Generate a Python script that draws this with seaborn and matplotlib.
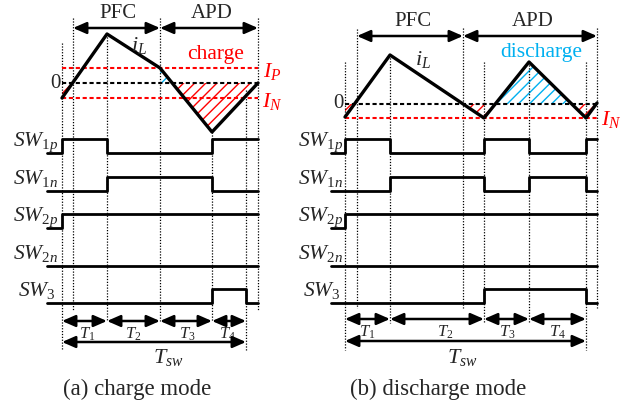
import numpy as np
import matplotlib
matplotlib.use('Agg')
import matplotlib.pyplot as plt
import seaborn as sns

sns.set_style('white')
plt.rcParams['font.family'] = ['Liberation Serif', 'DejaVu Serif']
plt.rcParams['mathtext.fontset'] = 'custom'
plt.rcParams['mathtext.rm'] = 'Liberation Serif'
plt.rcParams['mathtext.it'] = 'Liberation Serif:italic'
plt.rcParams['hatch.linewidth'] = 1.0

RED = '#ff0000'
BLUE = '#00b0f0'

# switch names and row levels (low level of each trace, sheet units)
sw_names = ['SW_{1p}', 'SW_{1n}', 'SW_{2p}', 'SW_{2n}', 'SW_3']
row_low = [153, 191, 228, 266, 303]
pulse_h = 14

# ---- (a) charge mode ----
a_il_t = [62, 107, 160, 212, 258]
a_il = [98, 34, 68, 132, 83]
a_levels = {'zero': 83, 'ip': 68, 'in': 98}
a_edges = [47, 62, 107, 212, 246, 258]
a_states = [
    [0, 1, 0, 1, 1],
    [0, 0, 1, 0, 0],
    [0, 1, 1, 1, 1],
    [0, 0, 0, 0, 0],
    [0, 0, 0, 1, 0],
]
a_vlines = [62, 73, 107, 160, 212, 246, 258]
a_vtop = [43, 18, 34, 18, 132, 90, 18]
a_vbot = [350, 310, 321, 321, 321, 350, 310]
a_periods = [62, 107, 160, 212, 246]
a_modes = [73, 160, 258]

# ---- (b) discharge mode ----
b_il_t = [345, 390, 484, 529, 586, 597]
b_il = [117, 55, 118, 62, 118, 103]
b_levels = {'zero': 104, 'in': 118}
b_edges = [331, 345, 390, 484, 529, 586, 597]
b_states = [
    [0, 1, 0, 1, 0, 1],
    [0, 0, 1, 0, 1, 0],
    [0, 1, 1, 1, 1, 1],
    [0, 0, 0, 0, 0, 0],
    [0, 0, 0, 1, 1, 0],
]
b_vlines = [345, 357, 390, 463, 484, 529, 586, 597]
b_vtop = [62, 29, 55, 28, 62, 62, 62, 28]
b_vbot = [350, 308, 323, 308, 323, 323, 350, 308]
b_periods = [345, 390, 484, 529, 586]
b_modes = [357, 463, 597]


def darrow(ax, x0, x1, y, lw=1.8):
    ax.annotate('', xy=(x1, y), xytext=(x0, y),
                arrowprops=dict(arrowstyle='<|-|>,head_length=0.8,head_width=0.35',
                                color='k', lw=lw, shrinkA=0, shrinkB=0))


def draw_panel(ax, il_t, il, lv, edges, states, vl, vtop, vbot, periods, modes,
               mode_y, lab_x, pos):
    # dotted event lines
    for x, t0, t1 in zip(vl, vtop, vbot):
        ax.plot([x, x], [t0, t1], color='k', lw=0.9, ls=(0, (1, 1.3)))
    x0, x1 = il_t[0], il_t[-1]
    # reference levels
    ax.plot([x0, x1], [lv['zero']] * 2, color='k', lw=1.5, ls=(0, (2, 1.3)))
    if 'ip' in lv:
        ax.plot([x0, x1], [lv['ip']] * 2, color=RED, lw=1.5, ls=(0, (2, 1.3)))
    ax.plot([x0, x1], [lv['in']] * 2, color=RED, lw=1.5, ls=(0, (2, 1.3)))
    # hatched areas between iL and zero
    tt = np.linspace(x0, x1, 600)
    yy = np.interp(tt, il_t, il)
    z = lv['zero']
    ax.fill_between(tt, z, yy, where=yy >= z, interpolate=True,
                    facecolor='none', edgecolor=RED, hatch='///', lw=0)
    ax.fill_between(tt, z, yy, where=(yy <= z) & (tt >= modes[1]), interpolate=True,
                    facecolor='none', edgecolor=BLUE, hatch='///', lw=0)
    # inductor current
    sns.lineplot(x=il_t, y=il, sort=False, estimator=None, color='k', lw=2.4, ax=ax)
    # switch signals
    for name, low, st in zip(sw_names, row_low, states):
        ys = [low - pulse_h * s for s in st] + [low - pulse_h * st[-1]]
        sns.lineplot(x=edges, y=ys, sort=False, estimator=None, color='k',
                     lw=2.0, drawstyle='steps-post', ax=ax)
        dx = 5 if name == 'SW_3' else 0
        ax.text(lab_x + dx, low - 7, '$' + name + '$', fontsize=15.5,
                ha='left', va='baseline')
    # PFC / APD arrows
    darrow(ax, modes[0], modes[1], mode_y)
    darrow(ax, modes[1], modes[2], mode_y)
    ax.text((modes[0] + modes[1]) / 2 + pos['pfc_dx'], mode_y - 14, 'PFC',
            fontsize=15, ha='center', va='center')
    ax.text((modes[1] + modes[2]) / 2 + pos['apd_dx'], mode_y - 14, 'APD',
            fontsize=15, ha='center', va='center')
    # interval arrows
    for i in range(4):
        darrow(ax, periods[i], periods[i + 1], pos['t_y'])
        ax.text((periods[i] + periods[i + 1]) / 2 + pos['t_dx'][i], pos['t_y'] + 13,
                '$T_%d$' % (i + 1), fontsize=12, ha='center', va='center')
    darrow(ax, periods[0], periods[-1], pos['tsw_y'])
    ax.text(pos['tsw_x'], 357, '$T_{sw}$', fontsize=16, ha='center', va='center')
    ax.text(pos['cap_x'], 389, pos['cap'], fontsize=16.5, ha='center', va='center')
    ax.text(x0 - 7, z, '0', fontsize=15, ha='center', va='center')


fig = plt.figure(figsize=(6.25, 4.05), dpi=100)
ax = fig.add_axes([0, 0, 1, 1])

draw_panel(ax, a_il_t, a_il, a_levels, a_edges, a_states, a_vlines, a_vtop, a_vbot,
           a_periods, a_modes, 28, 13,
           dict(pfc_dx=1, apd_dx=3, t_y=321, t_dx=[3, 0, 1, -2], tsw_y=342,
                tsw_x=168, cap_x=137, cap='(a) charge mode'))
draw_panel(ax, b_il_t, b_il, b_levels, b_edges, b_states, b_vlines, b_vtop, b_vbot,
           b_periods, b_modes, 36, 298,
           dict(pfc_dx=3, apd_dx=3, t_y=319, t_dx=[0, 8, 1, 0], tsw_y=341,
                tsw_x=462, cap_x=438, cap='(b) discharge mode'))

# annotations on the current waveforms
ax.text(139, 46, '$i_L$', fontsize=16, ha='center', va='center')
ax.text(423, 60, '$i_L$', fontsize=16, ha='center', va='center')
ax.text(216, 55, 'charge', fontsize=15.5, color=RED, ha='center', va='center')
ax.text(541, 52, 'discharge', fontsize=15.5, color=BLUE, ha='center', va='center')
ax.text(272, 72, '$I_P$', fontsize=16, color=RED, ha='center', va='center')
ax.text(272, 101, '$I_N$', fontsize=16, color=RED, ha='center', va='center')
ax.text(611, 120, '$I_N$', fontsize=16, color=RED, ha='center', va='center')

ax.set_xlim(0, 625)
ax.set_ylim(405, 0)
ax.axis('off')
fig.savefig('out.png', dpi=100, facecolor='white')
